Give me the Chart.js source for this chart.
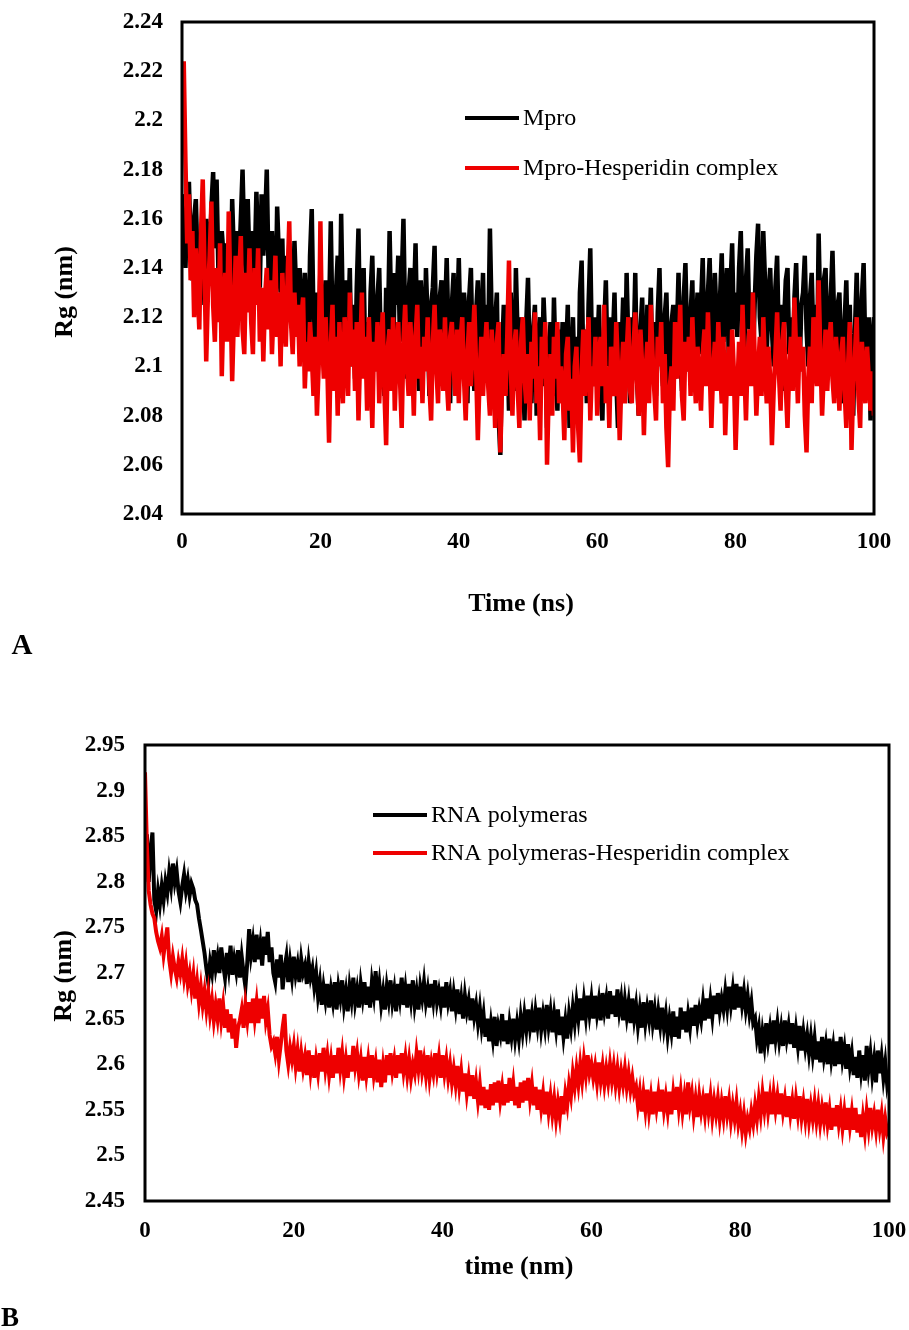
<!DOCTYPE html>
<html>
<head>
<meta charset="utf-8">
<script src="https://cdn.jsdelivr.net/npm/chart.js@4"></script>
<style>
    body { margin: 0; background: #fff; overflow: hidden; }
    #wrap { position: relative; width: 909px; height: 1330px; overflow: hidden; }
    canvas { position: absolute; left: 0; }
</style>
</head>
<body>
<div id="wrap">
    <canvas id="chartA" width="909" height="676" style="top:-11px"></canvas>
    <canvas id="chartB" width="923" height="665" style="top:665px"></canvas>
</div>
<script>
/**
 * 1. Data (sampled every 0.25 ns, 0 - 100)
 */
const timeStep = 0.25;
const xTickLabels = ['0', '20', '40', '60', '80', '100'];

// Panel A - Mpro
const yTickLabelsA = ['2.04', '2.06', '2.08', '2.1', '2.12', '2.14', '2.16', '2.18', '2.2', '2.22', '2.24'];
const mproRg = [
    2.170, 2.155, 2.140, 2.165, 2.175, 2.150, 2.135, 2.160, 2.168, 2.142, 2.130, 2.152, 2.145, 2.125, 2.160, 2.150, 2.138, 2.165, 2.179, 2.148,
    2.176, 2.140, 2.128, 2.155, 2.145, 2.120, 2.150, 2.138, 2.125, 2.168, 2.145, 2.130, 2.155, 2.140, 2.160, 2.180, 2.150, 2.135, 2.168, 2.142,
    2.128, 2.155, 2.140, 2.171, 2.150, 2.132, 2.170, 2.145, 2.158, 2.180, 2.140, 2.125, 2.155, 2.138, 2.120, 2.165, 2.145, 2.130, 2.152, 2.118,
    2.145, 2.125, 2.150, 2.135, 2.118, 2.151, 2.130, 2.112, 2.140, 2.125, 2.105, 2.138, 2.120, 2.100, 2.145, 2.164, 2.120, 2.098, 2.130, 2.110,
    2.140, 2.105, 2.125, 2.135, 2.100, 2.120, 2.159, 2.115, 2.092, 2.130, 2.145, 2.108, 2.162, 2.120, 2.098, 2.135, 2.115, 2.140, 2.100, 2.125,
    2.095, 2.132, 2.156, 2.110, 2.125, 2.140, 2.100, 2.118, 2.090, 2.130, 2.145, 2.112, 2.098, 2.128, 2.140, 2.105, 2.120, 2.088, 2.132, 2.115,
    2.155, 2.120, 2.100, 2.138, 2.125, 2.145, 2.110, 2.135, 2.160, 2.118, 2.095, 2.130, 2.140, 2.105, 2.125, 2.150, 2.112, 2.090, 2.135, 2.120,
    2.100, 2.140, 2.118, 2.088, 2.125, 2.132, 2.149, 2.110, 2.095, 2.128, 2.135, 2.105, 2.120, 2.144, 2.115, 2.085, 2.125, 2.138, 2.100, 2.118,
    2.144, 2.112, 2.095, 2.130, 2.120, 2.085, 2.128, 2.140, 2.105, 2.090, 2.122, 2.135, 2.100, 2.115, 2.138, 2.095, 2.125, 2.110, 2.156, 2.120,
    2.090, 2.118, 2.130, 2.080, 2.064, 2.105, 2.125, 2.095, 2.115, 2.082, 2.130, 2.105, 2.090, 2.140, 2.112, 2.088, 2.120, 2.100, 2.078, 2.118,
    2.136, 2.100, 2.085, 2.115, 2.125, 2.080, 2.108, 2.120, 2.092, 2.128, 2.110, 2.075, 2.105, 2.118, 2.088, 2.128, 2.100, 2.082, 2.115, 2.095,
    2.118, 2.085, 2.105, 2.125, 2.075, 2.100, 2.120, 2.090, 2.112, 2.080, 2.130, 2.143, 2.098, 2.115, 2.085, 2.125, 2.148, 2.105, 2.092, 2.120,
    2.105, 2.125, 2.090, 2.078, 2.115, 2.135, 2.100, 2.120, 2.088, 2.110, 2.130, 2.095, 2.075, 2.118, 2.105, 2.128, 2.092, 2.138, 2.110, 2.085,
    2.120, 2.105, 2.138, 2.095, 2.080, 2.115, 2.128, 2.100, 2.090, 2.125, 2.112, 2.132, 2.095, 2.118, 2.088, 2.122, 2.140, 2.105, 2.092, 2.120,
    2.130, 2.100, 2.085, 2.118, 2.125, 2.095, 2.112, 2.138, 2.105, 2.090, 2.128, 2.142, 2.110, 2.098, 2.122, 2.135, 2.095, 2.115, 2.130, 2.105,
    2.125, 2.144, 2.110, 2.098, 2.130, 2.144, 2.115, 2.100, 2.138, 2.120, 2.095, 2.128, 2.146, 2.110, 2.125, 2.140, 2.105, 2.132, 2.150, 2.115,
    2.130, 2.112, 2.140, 2.155, 2.120, 2.105, 2.135, 2.148, 2.115, 2.130, 2.100, 2.125, 2.145, 2.158, 2.120, 2.110, 2.155, 2.135, 2.105, 2.128,
    2.140, 2.115, 2.100, 2.132, 2.145, 2.110, 2.125, 2.090, 2.118, 2.135, 2.140, 2.105, 2.120, 2.095, 2.128, 2.142, 2.110, 2.098, 2.125, 2.130,
    2.145, 2.115, 2.100, 2.128, 2.138, 2.110, 2.125, 2.095, 2.154, 2.120, 2.105, 2.135, 2.140, 2.112, 2.098, 2.128, 2.147, 2.118, 2.090, 2.125,
    2.130, 2.105, 2.085, 2.118, 2.135, 2.100, 2.125, 2.092, 2.080, 2.115, 2.138, 2.108, 2.095, 2.128, 2.142, 2.105, 2.088, 2.120, 2.078, 2.110,
    2.120
];
const mproHespRg = [
    2.200, 2.224, 2.183, 2.150, 2.170, 2.135, 2.155, 2.120, 2.148, 2.132, 2.115, 2.155, 2.176, 2.140, 2.102, 2.130, 2.145, 2.167, 2.125, 2.110,
    2.140, 2.118, 2.150, 2.096, 2.125, 2.138, 2.110, 2.163, 2.130, 2.094, 2.120, 2.145, 2.112, 2.135, 2.153, 2.115, 2.105, 2.138, 2.122, 2.148,
    2.118, 2.105, 2.140, 2.125, 2.148, 2.110, 2.132, 2.102, 2.128, 2.140, 2.115, 2.135, 2.105, 2.125, 2.145, 2.112, 2.130, 2.100, 2.138, 2.120,
    2.108, 2.135, 2.159, 2.118, 2.105, 2.130, 2.112, 2.125, 2.100, 2.120, 2.128, 2.091, 2.110, 2.098, 2.118, 2.105, 2.088, 2.112, 2.080, 2.100,
    2.159, 2.110, 2.095, 2.120, 2.100, 2.069, 2.108, 2.125, 2.090, 2.112, 2.080, 2.118, 2.098, 2.085, 2.120, 2.105, 2.088, 2.130, 2.100, 2.115,
    2.090, 2.118, 2.078, 2.105, 2.130, 2.095, 2.112, 2.082, 2.120, 2.100, 2.075, 2.110, 2.098, 2.118, 2.085, 2.105, 2.122, 2.090, 2.068, 2.108,
    2.115, 2.090, 2.120, 2.082, 2.105, 2.118, 2.095, 2.075, 2.110, 2.125, 2.100, 2.088, 2.118, 2.105, 2.080, 2.112, 2.125, 2.095, 2.108, 2.085,
    2.112, 2.098, 2.120, 2.092, 2.078, 2.110, 2.125, 2.100, 2.085, 2.115, 2.105, 2.090, 2.120, 2.095, 2.082, 2.112, 2.118, 2.100, 2.088, 2.115,
    2.085, 2.110, 2.120, 2.095, 2.078, 2.105, 2.118, 2.092, 2.108, 2.125, 2.100, 2.070, 2.095, 2.112, 2.088, 2.105, 2.118, 2.092, 2.080, 2.115,
    2.100, 2.075, 2.110, 2.118, 2.065, 2.092, 2.105, 2.088, 2.112, 2.143, 2.100, 2.080, 2.108, 2.115, 2.092, 2.075, 2.110, 2.120, 2.095, 2.085,
    2.105, 2.078, 2.110, 2.095, 2.122, 2.085, 2.100, 2.070, 2.112, 2.095, 2.118, 2.060, 2.090, 2.105, 2.080, 2.112, 2.095, 2.118, 2.085, 2.100,
    2.090, 2.070, 2.105, 2.112, 2.082, 2.095, 2.065, 2.100, 2.108, 2.075, 2.061, 2.098, 2.115, 2.088, 2.105, 2.120, 2.078, 2.100, 2.092, 2.112,
    2.080, 2.105, 2.112, 2.092, 2.125, 2.085, 2.100, 2.075, 2.108, 2.095, 2.088, 2.118, 2.100, 2.070, 2.095, 2.110, 2.085, 2.105, 2.120, 2.090,
    2.085, 2.108, 2.122, 2.095, 2.080, 2.115, 2.100, 2.072, 2.098, 2.110, 2.085, 2.125, 2.105, 2.090, 2.078, 2.112, 2.100, 2.118, 2.085, 2.105,
    2.075, 2.059, 2.092, 2.100, 2.082, 2.118, 2.095, 2.105, 2.125, 2.088, 2.078, 2.110, 2.098, 2.112, 2.088, 2.120, 2.100, 2.085, 2.108, 2.095,
    2.082, 2.105, 2.115, 2.092, 2.122, 2.100, 2.075, 2.098, 2.110, 2.090, 2.118, 2.100, 2.085, 2.112, 2.072, 2.095, 2.108, 2.088, 2.115, 2.098,
    2.066, 2.090, 2.110, 2.088, 2.125, 2.100, 2.078, 2.105, 2.115, 2.092, 2.130, 2.105, 2.080, 2.098, 2.112, 2.088, 2.120, 2.100, 2.085, 2.108,
    2.095, 2.068, 2.090, 2.105, 2.122, 2.098, 2.082, 2.110, 2.118, 2.092, 2.075, 2.100, 2.112, 2.090, 2.128, 2.105, 2.085, 2.112, 2.098, 2.108,
    2.080, 2.065, 2.095, 2.108, 2.085, 2.120, 2.100, 2.092, 2.135, 2.105, 2.080, 2.098, 2.115, 2.090, 2.108, 2.118, 2.095, 2.085, 2.112, 2.100,
    2.082, 2.105, 2.112, 2.090, 2.075, 2.100, 2.118, 2.066, 2.092, 2.105, 2.120, 2.088, 2.075, 2.110, 2.098, 2.085, 2.108, 2.095, 2.082, 2.098,
    2.080
];

// Panel B - RNA polymeras
const yTickLabelsB = ['2.45', '2.5', '2.55', '2.6', '2.65', '2.7', '2.75', '2.8', '2.85', '2.9', '2.95'];
const rdrpRg = [
    2.830, 2.852, 2.800, 2.835, 2.854, 2.780, 2.768, 2.790, 2.775, 2.795, 2.780, 2.800, 2.788, 2.810, 2.795, 2.820, 2.800, 2.812, 2.790, 2.778,
    2.795, 2.808, 2.790, 2.802, 2.785, 2.798, 2.792, 2.780, 2.775, 2.760, 2.748, 2.735, 2.722, 2.705, 2.690, 2.712, 2.700, 2.725, 2.705, 2.718,
    2.700, 2.728, 2.710, 2.695, 2.722, 2.705, 2.730, 2.698, 2.715, 2.702, 2.725, 2.695, 2.718, 2.700, 2.685, 2.712, 2.748, 2.720, 2.735, 2.712,
    2.742, 2.715, 2.732, 2.708, 2.740, 2.720, 2.745, 2.712, 2.728, 2.700, 2.690, 2.715, 2.695, 2.720, 2.682, 2.705, 2.718, 2.690, 2.712, 2.695,
    2.718, 2.698, 2.710, 2.690, 2.715, 2.700, 2.708, 2.688, 2.712, 2.695, 2.705, 2.685, 2.700, 2.675, 2.690, 2.665, 2.685, 2.670, 2.688, 2.662,
    2.682, 2.668, 2.690, 2.660, 2.685, 2.672, 2.692, 2.665, 2.680, 2.658, 2.685, 2.670, 2.695, 2.668, 2.682, 2.662, 2.688, 2.672, 2.690, 2.665,
    2.685, 2.662, 2.690, 2.675, 2.702, 2.670, 2.688, 2.665, 2.680, 2.660, 2.685, 2.670, 2.692, 2.668, 2.682, 2.658, 2.688, 2.672, 2.695, 2.665,
    2.683, 2.662, 2.688, 2.670, 2.692, 2.665, 2.680, 2.660, 2.685, 2.672, 2.690, 2.668, 2.682, 2.662, 2.688, 2.670, 2.692, 2.668, 2.680, 2.665,
    2.685, 2.662, 2.690, 2.668, 2.680, 2.658, 2.678, 2.662, 2.682, 2.655, 2.672, 2.650, 2.675, 2.658, 2.670, 2.648, 2.672, 2.652, 2.665, 2.645,
    2.662, 2.640, 2.655, 2.630, 2.650, 2.625, 2.645, 2.628, 2.652, 2.620, 2.642, 2.632, 2.655, 2.625, 2.648, 2.622, 2.645, 2.630, 2.650, 2.628,
    2.645, 2.628, 2.652, 2.635, 2.655, 2.638, 2.660, 2.640, 2.655, 2.635, 2.658, 2.642, 2.662, 2.638, 2.655, 2.640, 2.665, 2.642, 2.658, 2.635,
    2.655, 2.638, 2.660, 2.632, 2.652, 2.630, 2.648, 2.628, 2.655, 2.640, 2.662, 2.645, 2.668, 2.650, 2.672, 2.648, 2.670, 2.652, 2.675, 2.655,
    2.672, 2.650, 2.675, 2.655, 2.670, 2.648, 2.678, 2.658, 2.672, 2.650, 2.680, 2.655, 2.675, 2.652, 2.682, 2.658, 2.672, 2.648, 2.670, 2.652,
    2.668, 2.645, 2.672, 2.650, 2.665, 2.642, 2.660, 2.640, 2.668, 2.645, 2.662, 2.648, 2.670, 2.645, 2.660, 2.638, 2.658, 2.642, 2.662, 2.640,
    2.655, 2.632, 2.650, 2.635, 2.658, 2.630, 2.652, 2.628, 2.662, 2.638, 2.658, 2.635, 2.655, 2.640, 2.662, 2.642, 2.665, 2.645, 2.660, 2.648,
    2.668, 2.648, 2.672, 2.650, 2.670, 2.652, 2.675, 2.655, 2.678, 2.658, 2.672, 2.660, 2.680, 2.662, 2.685, 2.665, 2.682, 2.660, 2.688, 2.662,
    2.685, 2.665, 2.680, 2.660, 2.675, 2.655, 2.668, 2.645, 2.650, 2.628, 2.640, 2.612, 2.635, 2.620, 2.645, 2.625, 2.640, 2.622, 2.648, 2.628,
    2.645, 2.625, 2.640, 2.620, 2.648, 2.628, 2.642, 2.622, 2.645, 2.618, 2.638, 2.620, 2.642, 2.615, 2.635, 2.618, 2.632, 2.612, 2.630, 2.610,
    2.628, 2.605, 2.625, 2.602, 2.630, 2.608, 2.622, 2.600, 2.628, 2.605, 2.620, 2.598, 2.625, 2.600, 2.630, 2.605, 2.618, 2.595, 2.622, 2.598,
    2.612, 2.588, 2.608, 2.585, 2.615, 2.592, 2.610, 2.582, 2.620, 2.595, 2.612, 2.588, 2.605, 2.580, 2.615, 2.590, 2.608, 2.585, 2.602, 2.578,
    2.590
];
const rdrpHespRg = [
    2.920, 2.840, 2.790, 2.775, 2.765, 2.760, 2.745, 2.735, 2.728, 2.740, 2.720, 2.735, 2.750, 2.715, 2.700, 2.718, 2.705, 2.695, 2.712, 2.700,
    2.715, 2.695, 2.710, 2.688, 2.700, 2.682, 2.698, 2.672, 2.690, 2.668, 2.685, 2.665, 2.680, 2.660, 2.678, 2.655, 2.670, 2.648, 2.665, 2.650,
    2.672, 2.648, 2.665, 2.640, 2.660, 2.635, 2.655, 2.628, 2.650, 2.618, 2.640, 2.648, 2.660, 2.640, 2.665, 2.648, 2.668, 2.645, 2.672, 2.650,
    2.668, 2.645, 2.672, 2.650, 2.675, 2.648, 2.660, 2.632, 2.620, 2.625, 2.612, 2.630, 2.605, 2.622, 2.640, 2.655, 2.615, 2.600, 2.618, 2.605,
    2.620, 2.598, 2.615, 2.592, 2.612, 2.595, 2.608, 2.588, 2.615, 2.592, 2.610, 2.585, 2.605, 2.590, 2.612, 2.592, 2.618, 2.595, 2.610, 2.588,
    2.605, 2.585, 2.610, 2.590, 2.618, 2.595, 2.612, 2.588, 2.605, 2.585, 2.610, 2.592, 2.620, 2.598, 2.612, 2.590, 2.605, 2.582, 2.608, 2.588,
    2.605, 2.585, 2.610, 2.588, 2.602, 2.580, 2.605, 2.575, 2.598, 2.580, 2.610, 2.588, 2.612, 2.592, 2.605, 2.585, 2.610, 2.590, 2.612, 2.592,
    2.608, 2.588, 2.605, 2.585, 2.600, 2.590, 2.612, 2.595, 2.615, 2.592, 2.605, 2.588, 2.610, 2.585, 2.602, 2.590, 2.612, 2.592, 2.608, 2.585,
    2.610, 2.590, 2.605, 2.585, 2.600, 2.580, 2.595, 2.578, 2.598, 2.575, 2.592, 2.570, 2.590, 2.568, 2.585, 2.565, 2.588, 2.562, 2.580, 2.560,
    2.578, 2.555, 2.575, 2.552, 2.572, 2.550, 2.578, 2.555, 2.580, 2.558, 2.582, 2.560, 2.575, 2.555, 2.578, 2.558, 2.585, 2.560, 2.578, 2.555,
    2.575, 2.552, 2.580, 2.558, 2.582, 2.560, 2.585, 2.562, 2.578, 2.555, 2.575, 2.550, 2.572, 2.552, 2.568, 2.545, 2.570, 2.548, 2.565, 2.545,
    2.562, 2.540, 2.558, 2.542, 2.565, 2.545, 2.568, 2.555, 2.578, 2.565, 2.590, 2.575, 2.595, 2.578, 2.600, 2.582, 2.605, 2.588, 2.610, 2.590,
    2.600, 2.585, 2.598, 2.580, 2.602, 2.582, 2.598, 2.578, 2.595, 2.580, 2.600, 2.582, 2.598, 2.578, 2.595, 2.575, 2.592, 2.578, 2.595, 2.575,
    2.590, 2.572, 2.585, 2.568, 2.575, 2.555, 2.570, 2.548, 2.568, 2.550, 2.572, 2.548, 2.565, 2.545, 2.570, 2.552, 2.568, 2.548, 2.572, 2.550,
    2.565, 2.548, 2.570, 2.545, 2.568, 2.550, 2.575, 2.552, 2.570, 2.548, 2.565, 2.545, 2.580, 2.555, 2.568, 2.545, 2.562, 2.542, 2.565, 2.548,
    2.562, 2.545, 2.568, 2.548, 2.565, 2.542, 2.560, 2.545, 2.562, 2.540, 2.558, 2.542, 2.565, 2.545, 2.560, 2.538, 2.555, 2.540, 2.558, 2.535,
    2.548, 2.528, 2.545, 2.525, 2.540, 2.530, 2.548, 2.535, 2.555, 2.540, 2.562, 2.545, 2.568, 2.550, 2.570, 2.548, 2.565, 2.545, 2.568, 2.550,
    2.565, 2.545, 2.568, 2.548, 2.562, 2.542, 2.565, 2.545, 2.560, 2.540, 2.562, 2.545, 2.565, 2.542, 2.558, 2.540, 2.562, 2.538, 2.555, 2.540,
    2.558, 2.538, 2.555, 2.535, 2.552, 2.538, 2.558, 2.535, 2.550, 2.528, 2.552, 2.532, 2.555, 2.535, 2.550, 2.530, 2.548, 2.528, 2.552, 2.532,
    2.548, 2.528, 2.552, 2.525, 2.545, 2.520, 2.542, 2.525, 2.548, 2.530, 2.552, 2.532, 2.545, 2.528, 2.550, 2.530, 2.545, 2.522, 2.540, 2.525,
    2.530
];

/**
 * 2. Helpers
 */
const SERIF = '"Liberation Serif", "Times New Roman", serif';
const RED = '#ee0000';

function toPoints(values) {
    return values.map((v, i) => ({ x: i * timeStep, y: v }));
}

// frame, axis titles, legend and panel letter (positions are page coordinates)
const decorPlugin = {
    id: 'decor',
    afterDatasetsDraw(chart) {
        const o = chart.options.plugins.decor;
        const ctx = chart.ctx;
        const a = chart.chartArea;
        ctx.save();
        ctx.strokeStyle = '#000';
        ctx.lineWidth = 3;
        ctx.strokeRect(a.left, a.top, a.right - a.left, a.bottom - a.top);

        ctx.translate(0, -o.pageTop);
        ctx.fillStyle = '#000';
        ctx.textAlign = 'center';
        ctx.textBaseline = 'middle';
        ctx.font = 'bold 26px ' + SERIF;
        ctx.fillText(o.xTitle, o.xTitlePos[0], o.xTitlePos[1]);
        ctx.save();
        ctx.translate(o.yTitlePos[0], o.yTitlePos[1]);
        ctx.rotate(-Math.PI / 2);
        ctx.fillText(o.yTitle, 0, 0);
        ctx.restore();

        ctx.font = 'bold ' + o.letterSize + 'px ' + SERIF;
        ctx.fillText(o.letter, o.letterPos[0], o.letterPos[1]);

        // legend
        ctx.font = '24px ' + SERIF;
        ctx.textAlign = 'left';
        o.legend.forEach((item) => {
            ctx.strokeStyle = item.color;
            ctx.lineWidth = 4;
            ctx.beginPath();
            ctx.moveTo(o.legendX, item.y);
            ctx.lineTo(o.legendX + 54, item.y);
            ctx.stroke();
            ctx.fillText(item.text, o.legendX + 58, item.y + 1);
        });
        ctx.restore();
    }
};

function makeChart(canvasId, cfg) {
    const tickFont = { family: SERIF, size: 23, weight: 'bold' };
    return new Chart(document.getElementById(canvasId), {
        type: 'line',
        data: {
            datasets: [
                { label: cfg.names[0], data: toPoints(cfg.series[0]), borderColor: '#000', borderWidth: cfg.lineWidth, pointRadius: 0, tension: 0, order: 2 },
                { label: cfg.names[1], data: toPoints(cfg.series[1]), borderColor: RED, borderWidth: cfg.lineWidth, pointRadius: 0, tension: 0, order: 1 }
            ]
        },
        options: {
            responsive: false,
            animation: false,
            events: [],
            layout: { padding: cfg.padding },
            plugins: {
                legend: { display: false },
                tooltip: { enabled: false },
                decor: cfg.decor
            },
            scales: {
                x: {
                    type: 'linear',
                    min: 0, max: 100,
                    grid: { display: false, drawTicks: false },
                    border: { display: false },
                    afterBuildTicks: (s) => { s.ticks = xTickLabels.map((t) => ({ value: parseFloat(t) })); },
                    afterFit: (s) => { s.height = cfg.xHeight; },
                    ticks: {
                        color: '#000', font: tickFont, padding: cfg.xPad, maxRotation: 0, autoSkip: false,
                        callback: (v, i) => xTickLabels[i]
                    }
                },
                y: {
                    min: parseFloat(cfg.yTicks[0]),
                    max: parseFloat(cfg.yTicks[cfg.yTicks.length - 1]),
                    grid: { display: false, drawTicks: false },
                    border: { display: false },
                    afterBuildTicks: (s) => { s.ticks = cfg.yTicks.map((t) => ({ value: parseFloat(t) })); },
                    afterFit: (s) => { s.width = cfg.yWidth; },
                    ticks: {
                        color: '#000', font: tickFont, padding: cfg.yPad, autoSkip: false,
                        callback: (v, i) => cfg.yTicks[i]
                    }
                }
            }
        },
        plugins: [decorPlugin]
    });
}

/**
 * 3. Panels
 */
makeChart('chartA', {
    names: ['Mpro', 'Mpro-Hesperidin complex'],
    series: [mproRg, mproHespRg],
    yTicks: yTickLabelsA,
    lineWidth: 4.5,
    padding: { top: 33, right: 35, left: 0, bottom: 0 },
    yWidth: 182, xHeight: 151, yPad: 19, xPad: 14,
    decor: {
        pageTop: -11,
        xTitle: 'Time (ns)', xTitlePos: [521, 604],
        yTitle: 'Rg (nm)', yTitlePos: [65, 292],
        letter: 'A', letterPos: [22, 647], letterSize: 29,
        legendX: 465,
        legend: [
            { text: 'Mpro', color: '#000', y: 118 },
            { text: 'Mpro-Hesperidin complex', color: RED, y: 168 }
        ]
    }
});

makeChart('chartB', {
    names: ['RNA polymeras', 'RNA polymeras-Hesperidin complex'],
    series: [rdrpRg, rdrpHespRg],
    yTicks: yTickLabelsB,
    lineWidth: 4,
    padding: { top: 80, right: 34, left: 0, bottom: 0 },
    yWidth: 145, xHeight: 129, yPad: 20, xPad: 16,
    decor: {
        pageTop: 665,
        xTitle: 'time (nm)', xTitlePos: [519, 1267],
        yTitle: 'Rg (nm)', yTitlePos: [64, 976],
        letter: 'B', letterPos: [10, 1319], letterSize: 27,
        legendX: 373,
        legend: [
            { text: 'RNA polymeras', color: '#000', y: 815 },
            { text: 'RNA polymeras-Hesperidin complex', color: RED, y: 853 }
        ]
    }
});
</script>
</body>
</html>
